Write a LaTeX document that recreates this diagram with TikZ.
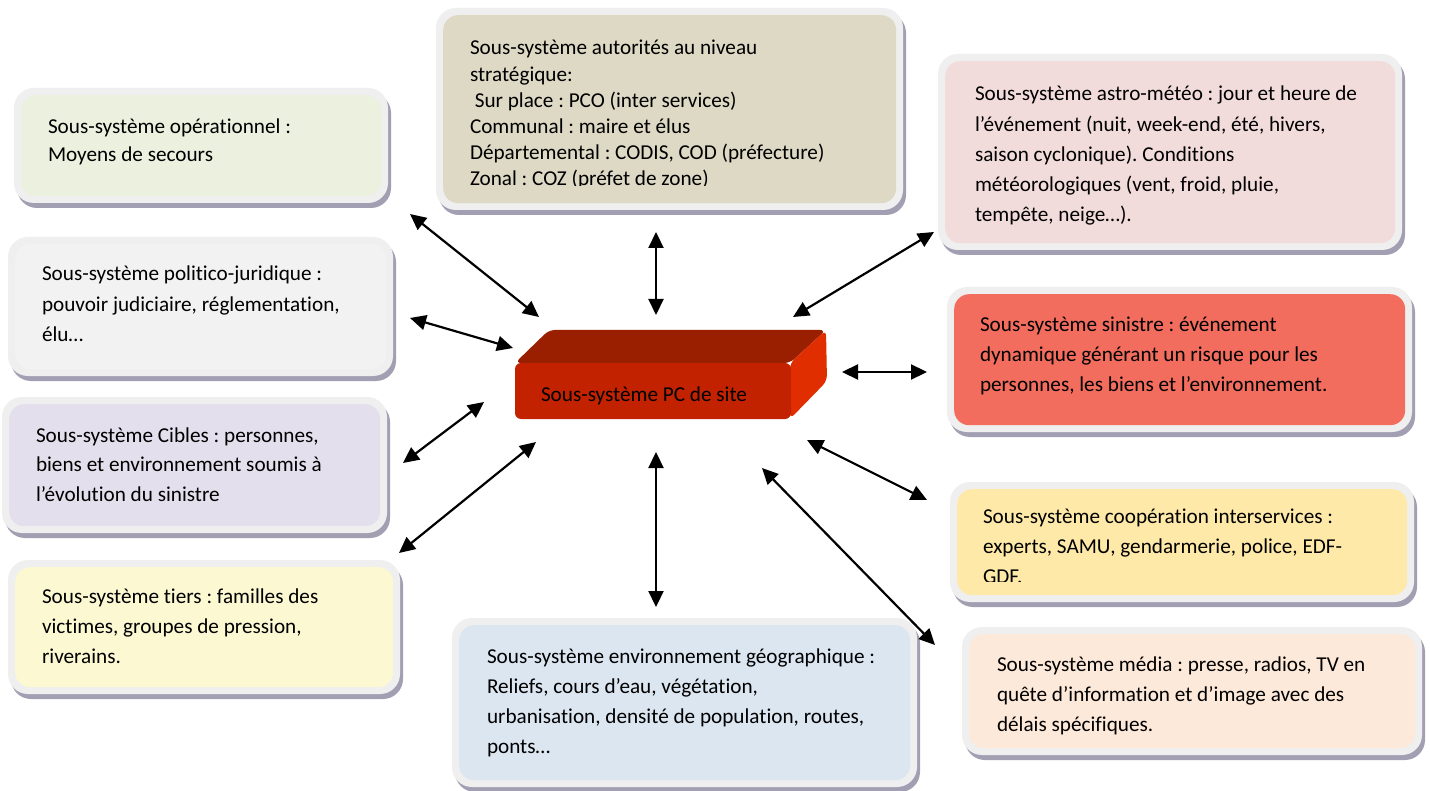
\documentclass[tikz,border=0pt]{standalone}
\usepackage{fontspec}
\setmainfont{Carlito}[RawFeature={-liga;-clig;-calt;-dlig}]
\usetikzlibrary{arrows.meta,fit}
\frenchspacing

\definecolor{framec}{HTML}{EFEFEF}
\definecolor{shadowc}{HTML}{A39FB3}
\definecolor{opc}{HTML}{EBF1DE}
\definecolor{autc}{HTML}{DDD9C4}
\definecolor{astroc}{HTML}{F2DCDB}
\definecolor{polc}{HTML}{F2F2F2}
\definecolor{sinc}{HTML}{F26D5D}
\definecolor{cibc}{HTML}{E4DFEC}
\definecolor{tiersc}{HTML}{FBF8D2}
\definecolor{coopc}{HTML}{FEE9A8}
\definecolor{mediac}{HTML}{FDE9D9}
\definecolor{envc}{HTML}{DCE6F1}
\definecolor{pctop}{HTML}{9A1E00}
\definecolor{pcfront}{HTML}{C22200}
\definecolor{pcside}{HTML}{E02E00}

\tikzset{
  link/.style={line width=1.1pt,
    {Triangle[length=8pt,width=7.5pt]}-{Triangle[length=8pt,width=7.5pt]}},
  txt/.style={anchor=base west, inner sep=0pt, outer sep=0pt,
    font=\fontsize{10.6pt}{#1}\selectfont},
  region/.style={inner sep=0pt, outer sep=0pt},
}

% #1 name, #2-#5 outer frame corners (px), #6 fill colour
\newcommand\subsys[6]{%
  \node[region, fit={(#2,#3) (#4,#5)}] (#1) {};
  \fill[shadowc, rounded corners=10pt]
    ([shift={(1.5pt,-2.5pt)}]#1.north west) rectangle ([shift={(1.5pt,-2.5pt)}]#1.south east);
  \fill[framec, rounded corners=10pt] (#1.north west) rectangle (#1.south east);
  \fill[#6, rounded corners=7.5pt]
    ([shift={(3.6pt,-3.6pt)}]#1.north west) rectangle ([shift={(-3.4pt,3.4pt)}]#1.south east);
}

\newcommand\lines[1]{\begin{tabular}[t]{@{}l@{}}#1\end{tabular}}

\begin{document}
\begin{tikzpicture}[x=0.5pt, y=-0.5pt]
  \useasboundingbox (0,0) rectangle (1430,791);
  \fill[white] (0,0) rectangle (1430,791);

  % surrounding sub-systems
  \subsys{op}{14}{88}{388}{203}{opc}
  \subsys{aut}{436}{8}{903}{210}{autc}
  \subsys{astro}{938}{54}{1402}{250}{astroc}
  \subsys{pol}{8}{237}{393}{376}{polc}
  \subsys{sin}{947}{287}{1412}{432}{sinc}
  \subsys{cib}{2}{397}{387}{533}{cibc}
  \subsys{tiers}{8}{560}{400}{694}{tiersc}
  \subsys{coop}{950}{482}{1414}{602}{coopc}
  \subsys{media}{962}{627}{1422}{755}{mediac}
  \subsys{env}{452}{618}{917}{787}{envc}

  % texts
  \node[txt=14pt] (op-t) at (48,134) {\lines{Sous-système opérationnel :\\Moyens de secours}};
  \begin{scope}
    \clip (443,15) rectangle (897,186);
    \node[txt=13.1pt] (aut-t) at (470,55) {\lines{Sous-système autorités au niveau\\stratégique:\\\ Sur place : PCO (inter services)\\Communal : maire et élus\\Départemental : CODIS, COD (préfecture)\\Zonal : COZ (préfet de zone)}};
  \end{scope}
  \node[txt=15.1pt] (astro-t) at (975,101) {\lines{Sous-système astro-météo : jour et heure de\\l’événement (nuit, week-end, été, hivers,\\saison cyclonique). Conditions\\météorologiques (vent, froid, pluie,\\tempête, neige…).}};
  \node[txt=15.2pt] (pol-t) at (42,281) {\lines{Sous-système politico-juridique :\\pouvoir judiciaire, réglementation,\\élu…}};
  \node[txt=15pt] (sin-t) at (980,331) {\lines{Sous-système sinistre : événement\\dynamique générant un risque pour les\\personnes, les biens et l’environnement.}};
  \node[txt=14.8pt] (cib-t) at (36,442) {\lines{Sous-système Cibles : personnes,\\biens et environnement soumis à\\l’évolution du sinistre}};
  \node[txt=15pt] (tiers-t) at (42,603) {\lines{Sous-système tiers : familles des\\victimes, groupes de pression,\\riverains.}};
  \begin{scope}
    \clip (957,488) rectangle (1408,581);
    \node[txt=15.2pt] (coop-t) at (983,523) {\lines{Sous-système coopération interservices :\\experts, SAMU, gendarmerie, police, EDF-\\GDF.}};
  \end{scope}
  \node[txt=15pt] (media-t) at (997,671) {\lines{Sous-système média : presse, radios, TV en\\quête d’information et d’image avec des\\délais spécifiques.}};
  \node[txt=15.15pt] (env-t) at (487,663) {\lines{Sous-système environnement géographique :\\Reliefs, cours d’eau, végétation,\\urbanisation, densité de population, routes,\\ponts…}};

  % central block: PC de site
  \node[region, fit={(515,330) (827,419)}] (pc) {};
  \fill[pctop, rounded corners=3pt] (515,363) -- (549,330) -- (826,330) -- (790,363) -- cycle;
  \fill[pcside, rounded corners=3pt] (790,363) -- (826,330) -- (827,381) -- (790,419) -- cycle;
  \fill[pcfront, rounded corners=3pt] (515,363) rectangle (791,419);
  \node[txt=15pt] (pc-t) at (541,401) {Sous-système PC de site};

  % links
  \draw[link] ([shift={(22,11)}]op.south east) -- ([shift={(24,-13)}]pc.north west);
  \draw[link] ([shift={(17,11.5)}]pol.east) -- ([shift={(-2,-26.5)}]pc.west);
  \draw[link] ([shift={(16,-2)}]cib.east) -- ([shift={(-31,27.5)}]pc.west);
  \draw[link] ([shift={(-1,-7)}]tiers.north east) -- ([shift={(21,23)}]pc.south west);
  \draw[link] ([shift={(-13.5,22)}]aut.south) -- ([shift={(-15,-15)}]pc.north);
  \draw[link] ([shift={(-15,33)}]pc.south) -- ([shift={(-28.5,-11)}]env.north);
  \draw[link] ([shift={(-34,-13)}]pc.north east) -- ([shift={(-4,-18)}]astro.south west);
  \draw[link] ([shift={(15,-2.5)}]pc.east) -- ([shift={(-20,12.5)}]sin.west);
  \draw[link] ([shift={(-20,21)}]pc.south east) -- ([shift={(-23,18)}]coop.north west);
  \draw[link] ([shift={(-65,49)}]pc.south east) -- ([shift={(-27,18)}]media.north west);
\end{tikzpicture}
\end{document}
